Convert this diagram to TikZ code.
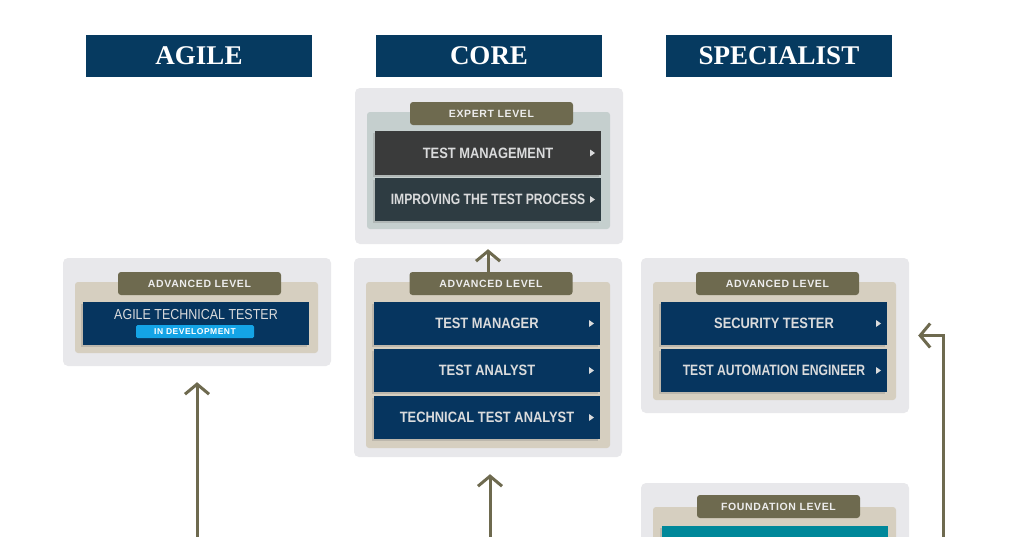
\documentclass[tikz,border=0pt]{standalone}
\usepackage{fontspec}
\setmainfont{Liberation Serif}
\newfontfamily\boxfont[FakeStretch=0.86]{Liberation Sans}
\newfontfamily\narrowfont[FakeStretch=0.81]{Liberation Sans}
\newfontfamily\tabfont[LetterSpace=6]{Liberation Sans}
\usetikzlibrary{arrows.meta,shadows}
\definecolor{headblue}{HTML}{063A60}
\definecolor{navy}{HTML}{06355F}
\definecolor{olive}{HTML}{6E6A4F}
\definecolor{panelgray}{HTML}{E8E8EB}
\definecolor{beige}{HTML}{D6CFC0}
\definecolor{slate}{HTML}{C5CFCE}
\definecolor{coal}{HTML}{3A3B3B}
\definecolor{petrol}{HTML}{2E3C42}
\definecolor{foundteal}{HTML}{00889A}
\definecolor{skyblue}{HTML}{14A4E6}
\definecolor{coursetext}{HTML}{DADBDC}
\tikzstyle{header} = [fill=headblue, text=white, minimum width=226pt,
  minimum height=42pt, inner sep=0pt, font=\fontsize{27}{30}\selectfont\bfseries]
\tikzstyle{panel} = [fill=panelgray, rounded corners=5pt, inner sep=0pt]
\tikzstyle{tray} = [fill=beige, rounded corners=3pt, inner sep=0pt]
\tikzstyle{tab} = [fill=olive, text=white!93!black, rounded corners=3pt,
  minimum width=163pt, minimum height=23pt, inner sep=0pt,
  font=\tabfont\bfseries\fontsize{10.5}{12}\selectfont]
\tikzstyle{tile} = [fill=navy, text=coursetext, minimum width=226pt,
  minimum height=43pt, inner sep=0pt,
  font=\boxfont\bfseries\fontsize{15}{17}\selectfont,
  drop shadow={shadow xshift=-2pt, shadow yshift=-2pt, opacity=0.3}]
\tikzstyle{course} = [tile, path picture={\fill[coursetext]
  ([xshift=-11pt,yshift=3.5pt]path picture bounding box.east)
  -- ++(5pt,-3.5pt) -- ++(-5pt,-3.5pt) -- cycle;}]
\tikzstyle{longcourse} = [course, font=\narrowfont\bfseries\fontsize{15}{17}\selectfont]
\tikzstyle{flow} = [line width=3pt, olive,
  -{Straight Barb[length=10pt,width=24pt,line width=3pt]}]
\begin{document}
\begin{tikzpicture}[x=1pt, y=-1pt]
    \clip (0,0) rectangle (1022,536);
    \fill[white] (0,0) rectangle (1022,536);
    \node[header] (agilehead) at (199,56) {AGILE};
    \node[header] (corehead) at (489,56) {CORE};
    \node[header] (spechead) at (779,56) {SPECIALIST};

    \node[panel, minimum width=268pt, minimum height=156pt] (expertpanel) at (489,166) {};
    \node[tray, fill=slate, minimum width=243pt, minimum height=117pt] (experttray) at (488.5,170.5) {};
    \node[tab] (experttab) at (491.5,113.5) {EXPERT LEVEL};
    \node[course, fill=coal, minimum height=44pt] (testmgmt) at (488,153) {TEST MANAGEMENT};
    \node[longcourse, fill=petrol] (improving) at (488,199.5) {IMPROVING THE TEST PROCESS\hspace{9pt}};

    \node[panel, minimum width=268pt, minimum height=199pt] (corepanel) at (488,357.5) {};
    \node[tray, minimum width=244pt, minimum height=166pt] (coretray) at (488,365) {};
    \node[tab] (coretab) at (491,283.5) {ADVANCED LEVEL};
    \node[course] (testmanager) at (487,323.5) {TEST MANAGER};
    \node[course] (testanalyst) at (487,370.5) {TEST ANALYST};
    \node[course] (techanalyst) at (487,417.5) {TECHNICAL TEST ANALYST\hspace{9pt}};

    \node[panel, minimum width=268pt, minimum height=108pt] (agilepanel) at (197,312) {};
    \node[tray, minimum width=243pt, minimum height=71pt] (agiletray) at (196.5,317.5) {};
    \node[tab] (agiletab) at (199.5,283.5) {ADVANCED LEVEL};
    \node[tile] (agilebox) at (196,323.5) {};
    \node[text=coursetext, font=\boxfont\fontsize{14.5}{16}\selectfont] (agiletitle) at (196,314.5) {AGILE TECHNICAL TESTER};
    \node[fill=skyblue, text=white, rounded corners=1.5pt, minimum width=118pt, minimum height=13pt,
      inner sep=0pt, font=\tabfont\bfseries\fontsize{8.5}{9}\selectfont] (agilebadge) at (195,331.5) {IN DEVELOPMENT};

    \node[panel, minimum width=268pt, minimum height=155pt] (specpanel) at (775,335.5) {};
    \node[tray, minimum width=243pt, minimum height=118pt] (spectray) at (774.5,341) {};
    \node[tab] (spectab) at (777.5,283.5) {ADVANCED LEVEL};
    \node[course] (security) at (774,323.5) {SECURITY TESTER};
    \node[longcourse] (automation) at (774,370.5) {TEST AUTOMATION ENGINEER\hspace{10pt}};

    \node[panel, minimum width=268pt, minimum height=120pt] (foundpanel) at (775,543) {};
    \node[tray, minimum width=243pt, minimum height=100pt] (foundtray) at (774.5,557) {};
    \node[tab] (foundtab) at (778.5,506.5) {FOUNDATION LEVEL};
    \node[tile, fill=foundteal, minimum height=44pt] (foundbox) at (775,548) {};

    \coordinate (agilefoot) at (197,545);
    \coordinate (corefoot) at (490,545);
    \coordinate (specfoot) at (943,545);
    \draw[flow, shorten >=5pt] (coretab.north -| 488,0) -- ([xshift=-1pt]expertpanel.south);
    \draw[flow, shorten >=16pt] (agilefoot) -- (agilepanel.south -| agilefoot);
    \draw[flow, shorten >=17pt] (corefoot) -- (corepanel.south -| corefoot);
    \draw[flow, shorten >=9pt] (specfoot) |- (specpanel.east);
\end{tikzpicture}
\end{document}
